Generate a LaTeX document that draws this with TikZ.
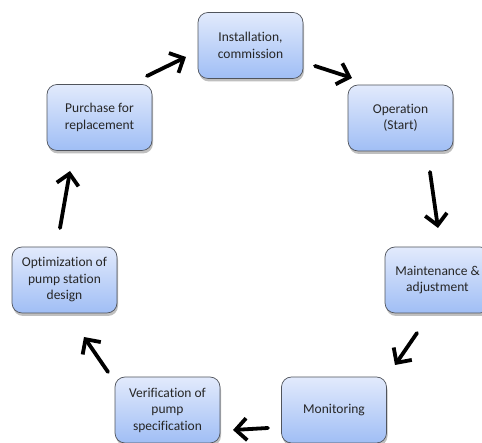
\documentclass[tikz,border=0pt]{standalone}
\usepackage{fontspec}
\setmainfont{Carlito}[Ligatures=NoCommon]
\usetikzlibrary{arrows.meta,shadows}
\definecolor{boxtop}{RGB}{226,234,252}
\definecolor{boxbot}{RGB}{160,190,245}
\definecolor{boxline}{RGB}{80,84,92}
\definecolor{txtgray}{RGB}{38,38,38}
\tikzset{
  stage/.style={draw=boxline, line width=0.7pt, rounded corners=10pt,
    top color=boxtop, bottom color=boxbot, minimum width=105pt, minimum height=66pt,
    align=center, text=txtgray, font=\fontsize{13.5}{16.5}\selectfont,
    drop shadow={shadow xshift=1pt, shadow yshift=-3pt, opacity=0.25, fill=black}},
  flow/.style={line width=3.8pt, line cap=round, -{Straight Barb[length=11pt, width=22pt]}}
}
\begin{document}
\begin{tikzpicture}[x=1pt, y=1pt]
        \useasboundingbox (0,0) rectangle (482,443);
        \clip (0,0) rectangle (482,443);
        % the seven stages of the cycle
        \node[stage] (install) at (250.5,397.5) {Installation,\\commission};
        \node[stage] (oper)    at (400.5,325)   {Operation\\(Start)};
        \node[stage] (maint)   at (437.5,163)   {Maintenance \&\\adjustment};
        \node[stage] (monit)   at (334,33)      {Monitoring};
        \node[stage] (verif)   at (167.5,33)    {Verification of\\pump\\specification};
        \node[stage] (optim)   at (64.5,163)    {Optimization of\\pump station\\design};
        \node[stage] (purch)   at (99.5,325.5)  {Purchase for\\replacement};
        % hand-drawn arrows between the stages
        \draw[flow] ([shift={(47.5,41.5)}]purch.center) -- ([shift={(-64.5,-11.5)}]install.center);
        \draw[flow] ([shift={(64.5,-20.5)}]install.center) -- ([shift={(-48.5,40)}]oper.center);
        \draw[flow] ([shift={(29.5,-54)}]oper.center) -- ([shift={(0.5,52)}]maint.center);
        \draw[flow] ([shift={(-20.5,-53)}]maint.center) -- ([shift={(61,45)}]monit.center);
        \draw[flow] ([shift={(-66,-18)}]monit.center) -- ([shift={(65.5,-20)}]verif.center);
        \draw[flow] ([shift={(-59.5,38)}]verif.center) -- ([shift={(19.5,-57)}]optim.center);
        \draw[flow] ([shift={(-4.5,52)}]optim.center) -- ([shift={(-29.5,-53.5)}]purch.center);
\end{tikzpicture}
\end{document}
